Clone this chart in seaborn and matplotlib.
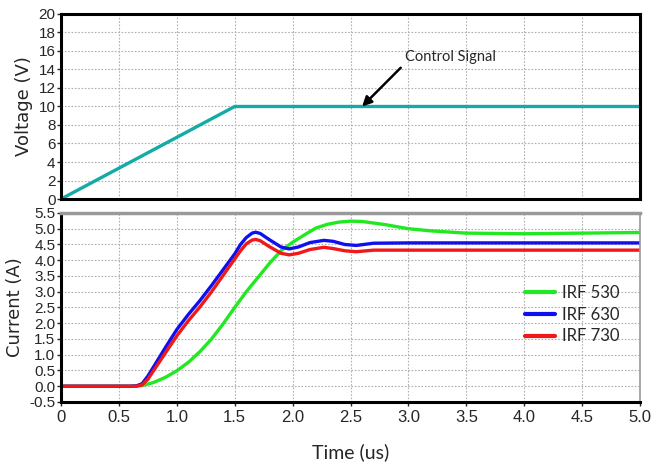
import numpy as np
import pandas as pd
import matplotlib
matplotlib.use("Agg")
import matplotlib.pyplot as plt
import seaborn as sns
from matplotlib.lines import Line2D

# control signal (top panel)
v_time = [0.0, 1.5, 5.0]
v_volt = [0.0, 10.0, 10.0]

# drain currents (bottom panel)
t_irf530 = [0, 0.6, 0.7, 0.8, 0.9, 1.0, 1.1, 1.2, 1.3, 1.4, 1.5, 1.6, 1.7, 1.8, 1.9, 2.0,
            2.1, 2.2, 2.3, 2.4, 2.5, 2.6, 2.8, 3.0, 3.2, 3.5, 4.0, 4.5, 5.0]
i_irf530 = [0, 0, 0.02, 0.12, 0.28, 0.49, 0.76, 1.1, 1.5, 1.98, 2.5, 3.0, 3.45, 3.9, 4.3, 4.57,
            4.8, 5.02, 5.14, 5.21, 5.24, 5.23, 5.13, 5.0, 4.93, 4.86, 4.84, 4.86, 4.88]

t_irf = [0, 0.6, 0.65, 0.7, 0.75, 0.8, 0.9, 1.0, 1.1, 1.2, 1.3, 1.4, 1.5, 1.55, 1.6, 1.65,
         1.68, 1.72, 1.8, 1.9, 1.97, 2.05, 2.15, 2.27, 2.35, 2.45, 2.55, 2.7, 3.0, 3.5, 4.0, 5.0]
i_irf630 = [0, 0, 0.01, 0.08, 0.32, 0.62, 1.22, 1.8, 2.28, 2.72, 3.2, 3.7, 4.2, 4.5, 4.72, 4.86,
            4.89, 4.85, 4.65, 4.42, 4.36, 4.42, 4.56, 4.63, 4.6, 4.5, 4.47, 4.54, 4.55, 4.55, 4.55, 4.55]
i_irf730 = [0, 0, 0.0, 0.04, 0.22, 0.5, 1.05, 1.6, 2.08, 2.52, 3.0, 3.52, 4.04, 4.3, 4.52, 4.64,
            4.66, 4.62, 4.43, 4.22, 4.17, 4.22, 4.34, 4.41, 4.37, 4.3, 4.27, 4.32, 4.32, 4.32, 4.32, 4.32]

labels = ["IRF 530", "IRF 630", "IRF 730"]
colors = ["#22e822", "#1010ee", "#f01818"]

df = pd.concat([
    pd.DataFrame({"t": t_irf530, "i": i_irf530, "dev": labels[0]}),
    pd.DataFrame({"t": t_irf, "i": i_irf630, "dev": labels[1]}),
    pd.DataFrame({"t": t_irf, "i": i_irf730, "dev": labels[2]}),
])

sns.set_style("whitegrid")
plt.rcParams['font.family'] = ['Liberation Sans', 'DejaVu Sans']
tick_font = 'Liberation Sans'
note_font = 'Lato'

fig = plt.figure(figsize=(6.72, 4.65), dpi=100)
ax1 = fig.add_axes([0.0908, 0.572, 0.8616, 0.398])
ax2 = fig.add_axes([0.0908, 0.1355, 0.8616, 0.4065])

grid_kw = dict(color="#b0b0b0", linestyle=(0, (1.5, 1.5)), linewidth=0.8)

# top panel
sns.lineplot(x=v_time, y=v_volt, ax=ax1, color="#14aaa6", linewidth=2.4)
ax1.set_xlim(0, 5)
ax1.set_ylim(0, 20)
ax1.set_xticks(np.arange(0, 5.01, 0.5))
ax1.set_xticklabels([])
ax1.set_yticks(np.arange(0, 21, 2))
ax1.grid(True, **grid_kw)
for s in ax1.spines.values():
    s.set_color("black")
    s.set_linewidth(2.2)
ax1.set_ylabel("Voltage (V)", fontsize=13, family="DejaVu Sans", labelpad=4)
ax1.tick_params(axis="y", length=3, width=1, pad=1, labelsize=11, left=True)
ax1.tick_params(axis="x", length=0)
ax1.annotate("Control Signal", xy=(2.6, 10), xytext=(2.97, 15.4),
             fontsize=10.5, family=note_font, va="center",
             arrowprops=dict(arrowstyle="-|>", color="black", lw=1.8, mutation_scale=14,
                             shrinkA=1, shrinkB=0, relpos=(0, 0)))

# bottom panel
sns.lineplot(data=df, x="t", y="i", hue="dev", palette=colors, ax=ax2,
             linewidth=2.4, legend=False, sort=False)
ax2.set_xlim(0, 5)
ax2.set_ylim(-0.5, 5.5)
ax2.set_xticks(np.arange(0, 5.01, 0.5))
ax2.set_xticklabels(["0"] + ["%.1f" % v for v in np.arange(0.5, 5.01, 0.5)])
ax2.set_yticks(np.arange(-0.5, 5.51, 0.5))
ax2.set_yticklabels(["%.1f" % v for v in np.arange(-0.5, 5.51, 0.5)])
ax2.grid(True, **grid_kw)
ax2.spines["left"].set_color("black")
ax2.spines["left"].set_linewidth(2.2)
ax2.spines["bottom"].set_color("black")
ax2.spines["bottom"].set_linewidth(2.2)
ax2.spines["top"].set_color("#999999")
ax2.spines["top"].set_linewidth(2.5)
ax2.spines["right"].set_color("#999999")
ax2.spines["right"].set_linewidth(1.2)
ax2.tick_params(axis="y", length=3, width=1, pad=1, labelsize=11, left=True)
ax2.tick_params(axis="x", length=3, width=1, pad=3, labelsize=12, bottom=True)
ax2.set_ylabel("Current (A)", fontsize=13, family="DejaVu Sans", labelpad=4)
ax2.set_xlabel("Time (us)", fontsize=14, family=note_font, labelpad=13)

for ax in (ax1, ax2):
    for lab in ax.get_xticklabels() + ax.get_yticklabels():
        lab.set_family(tick_font)

handles = [Line2D([], [], color=c, lw=3) for c in colors]
leg = ax2.legend(handles, labels, loc="upper left", bbox_to_anchor=(0.776, 0.70),
                 frameon=False, fontsize=12, handlelength=1.8, handletextpad=0.4,
                 labelspacing=0.35)
for txt in leg.get_texts():
    txt.set_family(note_font)

fig.savefig("out.png", dpi=100)
